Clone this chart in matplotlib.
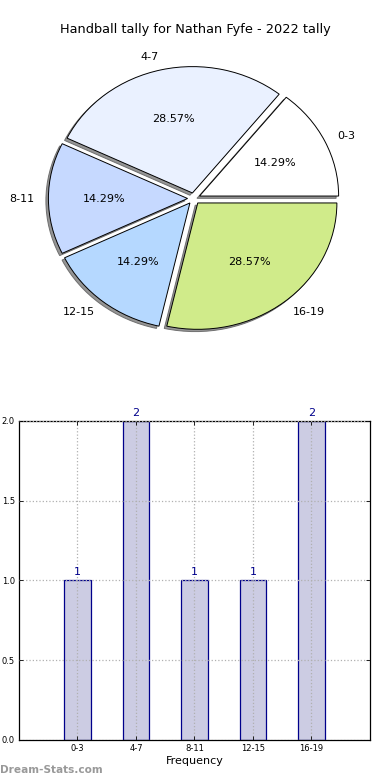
import matplotlib
matplotlib.use("Agg")
import matplotlib.pyplot as plt
import numpy as np

categories = ["0-3", "4-7", "8-11", "12-15", "16-19"]
counts = [1, 2, 1, 1, 2]
pie_colors = ["#FFFFFF", "#EAF1FF", "#C6D9FF", "#B5D8FF", "#D0EB8A"]
title = "Handball tally for Nathan Fyfe - 2022 tally"

fig = plt.figure(figsize=(3.9, 7.8), dpi=100)

# Pie
axp = fig.add_axes([0.051, 0.543, 0.892, 0.405])
explode = [0.045] * len(counts)
wedges, texts, autotexts = axp.pie(
    counts, labels=categories, colors=pie_colors, explode=explode,
    autopct="%1.2f%%", startangle=0, labeldistance=1.1, pctdistance=0.6,
    shadow={"ox": -0.013, "oy": -0.013, "facecolor": "#8a8a8a",
            "edgecolor": "#666666", "alpha": 0.9},
    wedgeprops={"edgecolor": "black", "linewidth": 0.7},
    textprops={"fontsize": 8})
axp.set_aspect("auto")
axp.set_xlim(-1.25, 1.25)
axp.set_ylim(-1.25, 1.25)
fig.text(0.5, 1 - 30 / 780, title, ha="center", va="center", fontsize=9.3)

# Bar
axb = fig.add_axes([0.0487, 0.0513, 0.9, 0.409])
x = np.arange(len(categories))
bars = axb.bar(x, counts, width=0.45, color="#CCCCE3", edgecolor="#00008B", linewidth=0.9, zorder=2)
for xi, c in zip(x, counts):
    axb.text(xi, c + 0.02, str(c), ha="center", va="bottom", color="#00008B", fontsize=8)
axb.set_xlim(-1, 5)
axb.set_ylim(0, 2.0)
axb.set_xticks(x)
axb.set_xticklabels(categories, fontsize=6)
axb.set_yticks([0.0, 0.5, 1.0, 1.5, 2.0])
axb.set_yticklabels(["0.0", "0.5", "1.0", "1.5", "2.0"], fontsize=6)
axb.tick_params(direction="in", top=True, right=True, length=3, width=0.6, pad=3)
axb.grid(True, linestyle=":", color="#b0b0b0", linewidth=0.9, zorder=3)
axb.set_axisbelow(False)
for s in axb.spines.values():
    s.set_linewidth(0.9)
axb.set_xlabel("Frequency", fontsize=8, labelpad=2)

fig.text(0.0, 1 - 770 / 780, "Dream-Stats.com", ha="left", va="center", fontsize=7.6,
         color="#999999", fontweight="bold")

fig.savefig("out.png", dpi=100)
